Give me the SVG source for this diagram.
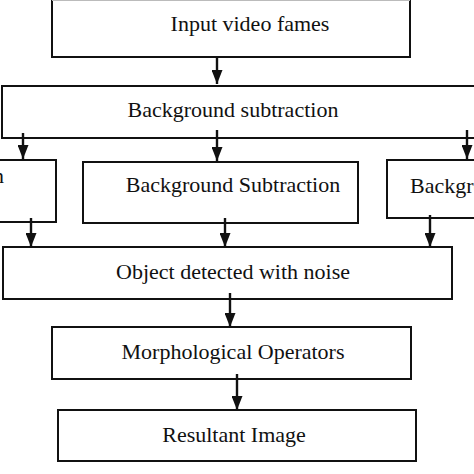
<svg xmlns="http://www.w3.org/2000/svg" width="474" height="474" viewBox="0 0 474 474">
<style>
.box{fill:#fff;stroke:#111;stroke-width:2}
.lbl{font-family:"Liberation Serif","Times New Roman",serif;font-size:22px;fill:#111;text-anchor:middle}
.arr{stroke:#111;stroke-width:2.4;fill:none;marker-end:url(#ah)}
</style>
<defs>
<marker id="ah" viewBox="0 0 14 11" refX="14" refY="5.5" markerWidth="14" markerHeight="11" markerUnits="userSpaceOnUse" orient="auto">
<path d="M0,0 L14,5.5 L0,11 z" fill="#111"/>
</marker>
</defs>
<rect width="474" height="474" fill="#fff"/>
<g id="n1"><rect class="box" x="52" y="-1" width="358" height="58" style="stroke:#111"/><line x1="52" y1="0" x2="410" y2="0" stroke="#bbb" stroke-width="2"/><text class="lbl" x="250" y="31">Input video fames</text></g>
<g id="n2"><rect class="box" x="2" y="86" width="480" height="52"/><text class="lbl" x="233" y="117">Background subtraction</text></g>
<g id="n3"><rect class="box" x="-20" y="160" width="76" height="62"/><text class="lbl" x="4" y="183" style="text-anchor:end">Background Subtraction</text></g>
<g id="n4"><rect class="box" x="83" y="162" width="275" height="61"/><text class="lbl" x="233" y="192">Background Subtraction</text></g>
<g id="n5"><rect class="box" x="387" y="160" width="100" height="58"/><text class="lbl" x="410" y="193" style="text-anchor:start">Background Subtraction</text></g>
<g id="n6"><rect class="box" x="3" y="247" width="449" height="52"/><text class="lbl" x="233" y="279">Object detected with noise</text></g>
<g id="n7"><rect class="box" x="52" y="327" width="359" height="52"/><text class="lbl" x="233" y="359">Morphological Operators</text></g>
<g id="n8"><rect class="box" x="58" y="410" width="358" height="51"/><text class="lbl" x="234" y="442">Resultant Image</text></g>
<g id="connectors">
<line class="arr" x1="217" y1="57" x2="217" y2="84"/>
<line class="arr" x1="23" y1="133" x2="23" y2="159"/>
<line class="arr" x1="217" y1="130" x2="217" y2="161"/>
<line class="arr" x1="467" y1="130" x2="467" y2="159"/>
<line class="arr" x1="31" y1="218" x2="31" y2="247"/>
<line class="arr" x1="225" y1="218" x2="225" y2="247"/>
<line class="arr" x1="430" y1="215" x2="430" y2="247"/>
<line class="arr" x1="230" y1="293" x2="230" y2="327"/>
<line class="arr" x1="237" y1="374" x2="237" y2="410"/>
</g>
</svg>
